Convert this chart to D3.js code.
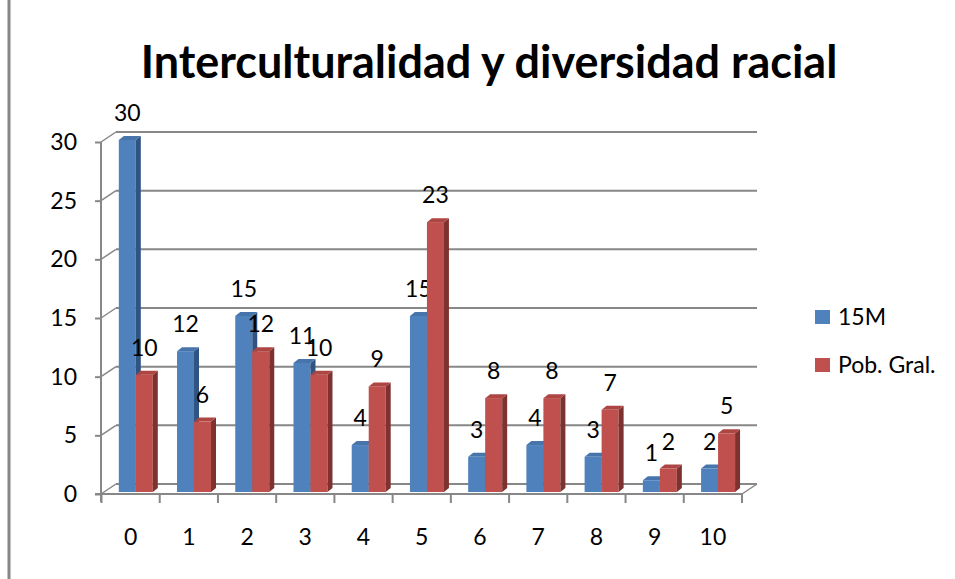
<!DOCTYPE html>
<html>
<head>
<meta charset="utf-8">
<script src="https://cdn.jsdelivr.net/npm/d3@7"></script>
<style>
  body { margin: 0; background: #fff; }
  text { font-family: Lato, "Open Sans", sans-serif; }
</style>
</head>
<body>
<svg id="chart" width="955" height="579"></svg>
<script>
// data
var categories = ["0", "1", "2", "3", "4", "5", "6", "7", "8", "9", "10"];
var serie15M   = [30, 12, 15, 11, 4, 15, 3, 4, 3, 1, 2];
var seriePob   = [10, 6, 12, 10, 9, 23, 8, 8, 7, 2, 5];
var yTicks     = [0, 5, 10, 15, 20, 25, 30];
var seriesNames = ["15M", "Pob. Gral."];
var chartTitle = "Interculturalidad y diversidad racial";

var svg = d3.select("#chart");
var gray = "#878787";
var fs = 23;

// wall depth offset (back wall vs front axis)
var DX = 15, DY = -10;
// bar depth (side/top face)
var BX = 5, BY = -4;

var x = d3.scaleBand().domain(categories).range([101.5, 742]);
var y = d3.scaleLinear().domain([0, 30]).range([494, 142]);

// chart border on the left
svg.append("line")
  .attr("x1", 9).attr("x2", 9).attr("y1", 0).attr("y2", 579)
  .attr("stroke", gray).attr("stroke-width", 3);

// title, fitted to the width of the original
var title = svg.append("text")
  .attr("x", 489).attr("y", 78)
  .attr("text-anchor", "middle")
  .attr("font-weight", "bold")
  .attr("font-size", 44)
  .attr("fill", "#000")
  .text(chartTitle);
var tw = title.node().getComputedTextLength();
title.attr("font-size", 44 * 697 / tw);

// back wall gridlines + diagonals to the front axis
var grid = svg.append("g");
yTicks.forEach(function(t) {
  grid.append("line")
    .attr("x1", x.range()[0] + DX - 0.5).attr("x2", 757)
    .attr("y1", y(t) + DY).attr("y2", y(t) + DY)
    .attr("stroke", gray).attr("stroke-width", 2);
  grid.append("line")
    .attr("x1", 101).attr("x2", 101 + DX)
    .attr("y1", y(t)).attr("y2", y(t) + DY)
    .attr("stroke", gray).attr("stroke-width", 1.5);
});

// floor edge on the right
svg.append("line")
  .attr("x1", 742).attr("x2", 757).attr("y1", 494).attr("y2", 484)
  .attr("stroke", gray).attr("stroke-width", 1.5);

// y axis
var yAxis = svg.append("g").attr("transform", "translate(101,0)")
  .call(d3.axisLeft(y).tickValues(yTicks).tickSize(6).tickPadding(18));
yAxis.select(".domain").attr("stroke", gray).attr("stroke-width", 2)
  .attr("d", "M0," + y(30) + "V" + (y(0) + 8));
yAxis.selectAll(".tick line").attr("stroke", gray).attr("stroke-width", 2);
yAxis.selectAll(".tick text").attr("font-size", fs).attr("fill", "#000")
  .attr("font-family", "Lato, sans-serif");

// x axis
var xAxis = svg.append("g").attr("transform", "translate(0,494)")
  .call(d3.axisBottom(x).tickSize(0).tickPadding(35));
xAxis.select(".domain").attr("stroke", gray).attr("stroke-width", 2)
  .attr("d", "M95,0H742");
xAxis.selectAll(".tick text").attr("font-size", fs).attr("fill", "#000")
  .attr("font-family", "Lato, sans-serif");
// category separators
var bounds = categories.map(function(c) { return x(c); }).concat([742]);
xAxis.selectAll(".sep").data(bounds).enter().append("line")
  .attr("x1", function(d) { return d; }).attr("x2", function(d) { return d; })
  .attr("y1", 0).attr("y2", 9)
  .attr("stroke", gray).attr("stroke-width", 2);

// 3d bars
var series = [
  { name: seriesNames[0], values: serie15M, front: "#4f81bd", side: "#2f5382", top: "#4775ab", off: 17.3 },
  { name: seriesNames[1], values: seriePob, front: "#c0504d", side: "#7e3230", top: "#ad4542", off: 34.3 }
];
var bw = 17;
var bars = svg.append("g");
categories.forEach(function(c, i) {
  series.forEach(function(s) {
    var v = s.values[i];
    var x0 = x(c) + s.off;
    var yt = y(v) - 2, yb = y(0) - 2;
    var g = bars.append("g");
    g.append("rect")
      .attr("x", x0).attr("y", yt).attr("width", bw).attr("height", yb - yt)
      .attr("fill", s.front);
    g.append("polygon")
      .attr("points", [[x0 + bw, yt], [x0 + bw + BX, yt + BY], [x0 + bw + BX, yb + BY], [x0 + bw, yb]].join(" "))
      .attr("fill", s.side);
    g.append("polygon")
      .attr("points", [[x0, yt], [x0 + BX, yt + BY], [x0 + bw + BX, yt + BY], [x0 + bw, yt]].join(" "))
      .attr("fill", s.top);
    g.append("text")
      .attr("x", x0 + bw / 2).attr("y", yt - 19)
      .attr("text-anchor", "middle")
      .attr("font-size", fs)
      .attr("fill", "#000")
      .text(v);
  });
});

// legend
var legend = svg.append("g");
series.forEach(function(s, i) {
  var ly = 317 + i * 48;
  legend.append("rect")
    .attr("x", 815).attr("y", ly - 7).attr("width", 15).attr("height", 14)
    .attr("fill", s.front);
  legend.append("text")
    .attr("x", 838).attr("y", ly).attr("dy", "0.35em")
    .attr("font-size", fs).attr("fill", "#000")
    .text(s.name);
});
</script>
</body>
</html>
